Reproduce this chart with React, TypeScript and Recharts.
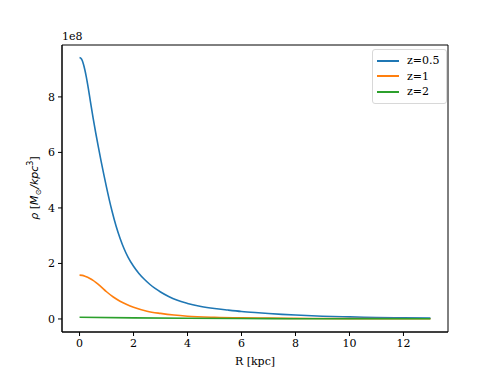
import React from 'react';
import {
  LineChart,
  Line,
  XAxis,
  YAxis,
  ReferenceArea
} from 'recharts';

// density values are in units of 1e8 M_sun/kpc^3
const radiusBlue = [0, 0.05, 0.1, 0.15, 0.2, 0.25, 0.3, 0.4, 0.5, 0.6, 0.7, 0.8, 0.9, 1.0, 1.1, 1.2, 1.35, 1.5, 1.65, 1.8, 2.0, 2.2, 2.4, 2.6, 2.8, 3.0, 3.3, 3.6, 4.0, 4.5, 5.0, 5.5, 6.0, 6.5, 7.0, 7.5, 8.0, 9.0, 10.0, 11.0, 12.0, 13.0];
const rhoZ05 = [9.42, 9.39, 9.31, 9.16, 8.96, 8.72, 8.45, 7.85, 7.25, 6.7, 6.18, 5.68, 5.2, 4.74, 4.3, 3.9, 3.36, 2.91, 2.53, 2.22, 1.9, 1.64, 1.43, 1.25, 1.1, 0.97, 0.81, 0.68, 0.56, 0.45, 0.375, 0.32, 0.27, 0.23, 0.195, 0.165, 0.14, 0.1, 0.075, 0.055, 0.04, 0.03];

const radiusOrange = [0, 0.1, 0.2, 0.3, 0.4, 0.5, 0.6, 0.75, 1.0, 1.25, 1.5, 1.75, 2.0, 2.5, 3.0, 3.5, 4.0, 5.0, 6.0, 7.0, 8.0, 10.0, 13.0];
const rhoZ1 = [1.58, 1.57, 1.54, 1.5, 1.45, 1.39, 1.32, 1.2, 0.98, 0.79, 0.64, 0.52, 0.42, 0.28, 0.2, 0.14, 0.1, 0.06, 0.04, 0.03, 0.02, 0.012, 0.006];

const radiusGreen = [0, 2, 4, 6, 8, 10, 13];
const rhoZ2 = [0.06, 0.04, 0.025, 0.015, 0.01, 0.007, 0.005];

const xTicks = [0, 2, 4, 6, 8, 10, 12];
const yTicks = [0, 2, 4, 6, 8];

const toPoints = (xs: number[], ys: number[]) => xs.map((r, i) => ({ r, rho: ys[i] }));

const series = [
  { name: 'z=0.5', color: '#1f77b4', data: toPoints(radiusBlue, rhoZ05) },
  { name: 'z=1', color: '#ff7f0e', data: toPoints(radiusOrange, rhoZ1) },
  { name: 'z=2', color: '#2ca02c', data: toPoints(radiusGreen, rhoZ2) }
];

const FONT = '"DejaVu Serif", serif';
const MATH = '"DejaVu Sans", sans-serif';
const X_DOMAIN: [number, number] = [-0.65, 13.65];
const Y_DOMAIN: [number, number] = [-0.47, 9.87];

const tickStyle = { fill: '#000', fontFamily: FONT, fontSize: 11, style: { fontFamily: FONT } };

const LegendBox = () => (
  <div
    style={{
      position: 'absolute',
      left: 372,
      top: 49,
      border: '1px solid #d8d8d8',
      borderRadius: 3,
      background: '#fff',
      padding: '3px 6px 3px 4px',
      fontFamily: FONT,
      fontSize: 11,
      lineHeight: '15.5px'
    }}
  >
    {series.map(s => (
      <div key={s.name} style={{ display: 'flex', alignItems: 'center' }}>
        <span style={{ display: 'inline-block', width: 22, height: 2, background: s.color, marginRight: 8 }} />
        <span style={{ color: '#000' }}>{s.name}</span>
      </div>
    ))}
  </div>
);

const YLabel = () => (
  <text
    x={38}
    y={188}
    transform="rotate(-90 38 188)"
    textAnchor="middle"
    fontSize={11}
    fill="#000"
    style={{ fontFamily: FONT }}
  >
    <tspan fontStyle="italic" style={{ fontFamily: MATH }}>ρ</tspan>
    <tspan>  [</tspan>
    <tspan fontStyle="italic" style={{ fontFamily: MATH }}>M</tspan>
    <tspan fontSize={8} dy={3} style={{ fontFamily: MATH }}>⊙</tspan>
    <tspan fontStyle="italic" dy={-3} style={{ fontFamily: MATH }}>/kpc</tspan>
    <tspan fontSize={8} dy={-5} style={{ fontFamily: MATH }}>3</tspan>
    <tspan dy={5}>]</tspan>
  </text>
);

const App: React.FC = () => {
  return (
    <div style={{ position: 'absolute', left: 0, top: 0, width: 498, height: 374, background: '#fff', fontFamily: FONT }}>
      <LineChart
        width={498}
        height={374}
        margin={{ top: 45, right: 50, bottom: 12, left: 0 }}
        style={{ fontFamily: FONT }}
      >
        <XAxis
          type="number"
          dataKey="r"
          domain={X_DOMAIN}
          ticks={xTicks}
          allowDataOverflow
          height={30}
          tickSize={4}
          tickMargin={3}
          stroke="#000"
          tick={tickStyle}
          label={{ value: 'R [kpc]', position: 'insideBottom', offset: -3, fill: '#000', fontSize: 11, style: { fontFamily: FONT } }}
        />
        <YAxis
          type="number"
          domain={Y_DOMAIN}
          ticks={yTicks}
          allowDataOverflow
          width={62}
          tickSize={4}
          tickMargin={3}
          stroke="#000"
          tick={tickStyle}
          label={<YLabel />}
        />
        <ReferenceArea
          x1={X_DOMAIN[0]}
          x2={X_DOMAIN[1]}
          y1={Y_DOMAIN[0]}
          y2={Y_DOMAIN[1]}
          fill="none"
          stroke="#000"
          strokeWidth={1}
        />
        {series.map(s => (
          <Line
            key={s.name}
            data={s.data}
            dataKey="rho"
            name={s.name}
            type="monotone"
            stroke={s.color}
            strokeWidth={1.6}
            dot={false}
            isAnimationActive={false}
          />
        ))}
        <text x={62} y={40} fontSize={11} fill="#000" style={{ fontFamily: FONT }}>1e8</text>
      </LineChart>
      <LegendBox />
    </div>
  );
};

export default App;
